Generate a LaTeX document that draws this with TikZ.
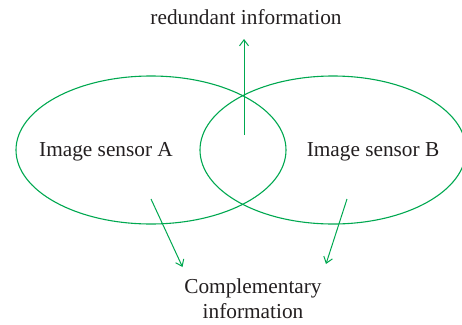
\documentclass[tikz,border=0pt]{standalone}
\usepackage{fontspec}
\setmainfont{Liberation Serif}
\usetikzlibrary{shapes.geometric,arrows.meta}
\definecolor{vgreen}{RGB}{0,168,80}
\definecolor{vtext}{RGB}{35,31,32}
\begin{document}
\begin{tikzpicture}[x=1pt,y=-1pt,
  oval/.style={draw=vgreen, line width=1.1pt, ellipse, inner sep=0pt, minimum width=270pt, minimum height=148pt},
  lbl/.style={text=vtext, font=\fontsize{21.3}{24.5}\selectfont, inner sep=0pt, align=center},
  arr/.style={draw=vgreen, line width=1pt, -{Straight Barb[length=6pt,width=9pt]}}]
\useasboundingbox (0,0) rectangle (462,324);
\begin{scope}
\clip (0,0) rectangle (462,324);
\node[oval] (A) at (151,150) {};
\node[oval, minimum width=266pt] (B) at (333,150) {};
\end{scope}
\node[lbl, anchor=base] (ta) at (106,156) {Image sensor A};
\node[lbl, anchor=base] (tb) at (373,156) {Image sensor B};
\node[lbl, anchor=base] (red) at (246,24) {redundant information};
\node[lbl, anchor=base] (comp) at (253,318) {Complementary\\information};
\coordinate (u0) at (244,135);
\coordinate (u1) at (244,39);
\coordinate (l0) at (151,199);
\coordinate (l1) at (182.5,267);
\coordinate (r0) at (347,199);
\coordinate (r1) at (326,264);
\draw[arr] (u0) -- (u1);
\draw[arr] (l0) -- (l1);
\draw[arr] (r0) -- (r1);
\end{tikzpicture}
\end{document}
